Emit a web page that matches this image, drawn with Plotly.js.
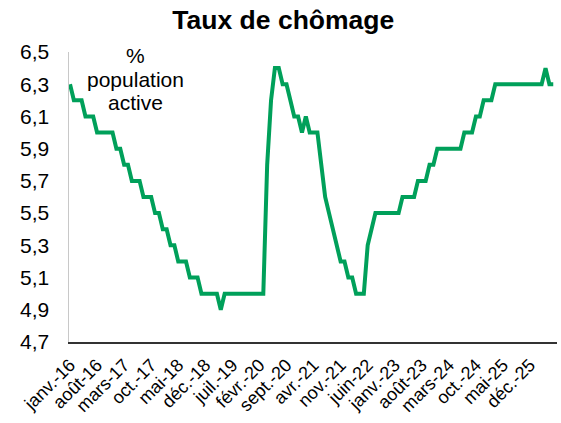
<!DOCTYPE html>
<html>
<head>
<meta charset="utf-8">
<script src="https://cdn.plot.ly/plotly-3.0.1.min.js"></script>
<style>html,body{margin:0;padding:0;background:#fff;}#chart{width:561px;height:423px;}</style>
</head>
<body>
<div id="chart"></div>
<script>
// Monthly unemployment rate (%), from janv.-16 onward
const tickLabels = ['janv.-16','août-16','mars-17','oct.-17','mai-18','déc.-18','juil.-19','févr.-20','sept.-20',
  'avr.-21','nov.-21','juin-22','janv.-23','août-23','mars-24','oct.-24','mai-25','déc.-25'];
const rate = [
  6.3, 6.2, 6.2, 6.2, 6.1, 6.1, 6.1, 6.0, 6.0, 6.0, 6.0, 6.0,
  5.9, 5.9, 5.8, 5.8, 5.7, 5.7, 5.7, 5.6, 5.6, 5.6, 5.5, 5.5,
  5.4, 5.4, 5.3, 5.3, 5.2, 5.2, 5.2, 5.1, 5.1, 5.1, 5.0, 5.0,
  5.0, 5.0, 5.0, 4.9, 5.0, 5.0, 5.0, 5.0, 5.0, 5.0, 5.0, 5.0,
  5.0, 5.0, 5.0, 5.8, 6.2, 6.4, 6.4, 6.3, 6.3, 6.2, 6.1, 6.1,
  6.0, 6.1, 6.0, 6.0, 6.0, 5.8, 5.6, 5.5, 5.4, 5.3, 5.2, 5.2,
  5.1, 5.1, 5.0, 5.0, 5.0, 5.3, 5.4, 5.5, 5.5, 5.5, 5.5, 5.5,
  5.5, 5.5, 5.6, 5.6, 5.6, 5.6, 5.7, 5.7, 5.7, 5.8, 5.8, 5.9,
  5.9, 5.9, 5.9, 5.9, 5.9, 5.9, 6.0, 6.0, 6.0, 6.1, 6.1, 6.2,
  6.2, 6.2, 6.3, 6.3, 6.3, 6.3, 6.3, 6.3, 6.3, 6.3, 6.3, 6.3,
  6.3, 6.3, 6.3, 6.4, 6.3, 6.3
];
const unitLines = ['%', 'population', 'active'];
const tickStep = 7; // months between labels
const monthIndex = rate.map((_, i) => i);

const font = 'Liberation Sans, Arial, sans-serif';
const unitY = [0.988, 0.905, 0.826];

Plotly.newPlot('chart', [{
  x: monthIndex,
  y: rate,
  type: 'scatter',
  mode: 'lines',
  line: {color: '#00a05a', width: 4, shape: 'linear'},
  hoverinfo: 'skip'
}], {
  width: 561, height: 423,
  margin: {l: 69, r: 4, t: 52, b: 81},
  paper_bgcolor: '#fff', plot_bgcolor: '#fff',
  separators: ', ',
  showlegend: false,
  title: {text: '<b>Taux de chômage</b>', x: 0.505, xanchor: 'center', y: 0.976, yanchor: 'top',
          font: {family: font, size: 26.5, color: '#000'}},
  xaxis: {
    range: [-0.26, 125.97],
    tickvals: tickLabels.map((_, k) => k * tickStep),
    ticktext: tickLabels,
    tickangle: -45,
    tickfont: {family: font, size: 18, color: '#000'},
    ticklabelstandoff: 4,
    showgrid: false, zeroline: false,
    showline: true, linecolor: '#333', linewidth: 1.5,
    ticks: '', fixedrange: true
  },
  yaxis: {
    range: [4.7, 6.5],
    dtick: 0.2, tick0: 4.7,
    tickformat: '.1f',
    tickfont: {family: font, size: 21, color: '#000'},
    ticklabelstandoff: 14,
    showgrid: false, zeroline: false,
    showline: true, linecolor: '#c8c8c8', linewidth: 1.5,
    ticks: '', ticklen: 0, fixedrange: true
  },
  annotations: unitLines.map((t, k) => ({
    text: t,
    xref: 'paper', yref: 'paper', x: 0.136, y: unitY[k], xanchor: 'center', yanchor: 'middle',
    showarrow: false, align: 'center',
    font: {family: font, size: 21, color: '#000'}
  }))
}, {displayModeBar: false, staticPlot: true});
</script>
</body>
</html>
